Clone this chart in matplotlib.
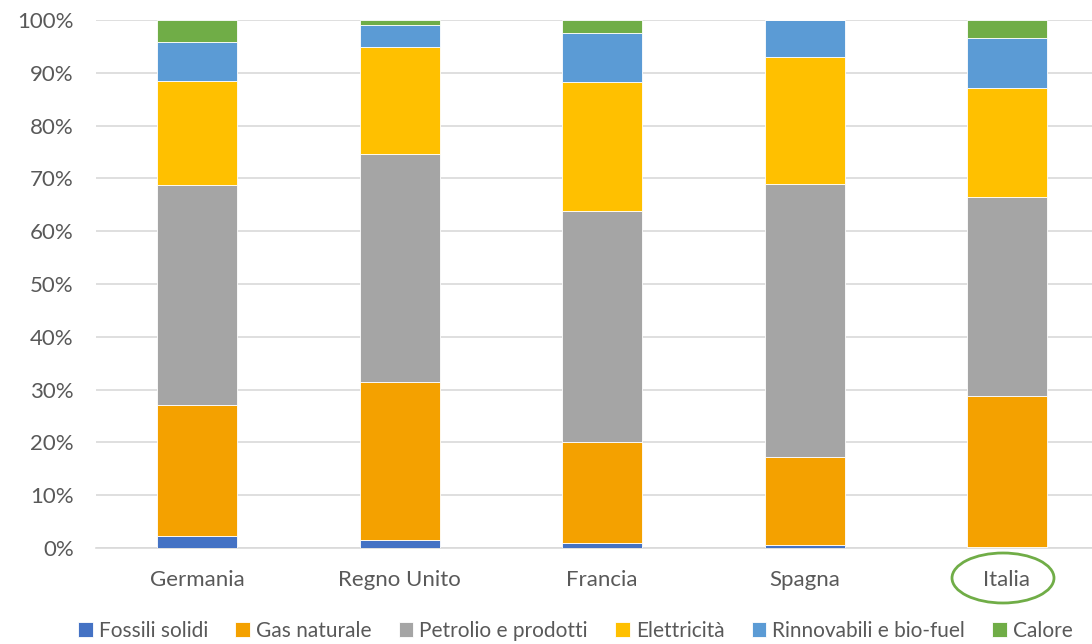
import numpy as np
import matplotlib.pyplot as plt
from matplotlib.patches import Ellipse

countries = ['Germania', 'Regno Unito', 'Francia', 'Spagna', 'Italia']
series = ['Fossili solidi', 'Gas naturale', 'Petrolio e prodotti', 'Elettricità',
          'Rinnovabili e bio-fuel', 'Calore']
fossili = [2.3, 1.5, 1.0, 0.6, 0.1]
gas = [24.8, 29.9, 19.0, 16.6, 28.7]
petrolio = [41.7, 43.2, 43.9, 51.8, 37.6]
elettricita = [19.7, 20.2, 24.3, 23.9, 20.8]
rinnovabili = [7.3, 4.2, 9.4, 7.1, 9.4]
calore = [4.2, 1.0, 2.4, 0.0, 3.4]
colors = ['#4472C4', '#F4A100', '#A5A5A5', '#FFC000', '#5B9BD5', '#70AD47']

plt.rcParams['font.family'] = ['Lato', 'DejaVu Sans']
fig = plt.figure(figsize=(10.92, 6.44), dpi=100)
ax = fig.add_axes([96 / 1092, 96 / 644, 1 - 96 / 1092, 528 / 644])

x = np.arange(len(countries))
bottom = np.zeros(len(countries))
for name, vals, c in zip(series, [fossili, gas, petrolio, elettricita, rinnovabili, calore], colors):
    ax.bar(x, vals, 0.395, bottom=bottom, color=c, edgecolor='white', linewidth=0.6, label=name, zorder=3)
    bottom += np.array(vals)

ax.set_xlim(-0.5, 4.42)
ax.set_ylim(0, 100)
ax.set_yticks(np.arange(0, 101, 10))
ax.set_yticklabels(['%d%%' % v for v in range(0, 101, 10)])
ax.set_xticks(x)
ax.set_xticklabels(countries)
ax.yaxis.grid(True, color='#D9D9D9', linewidth=1.2, zorder=0)
ax.tick_params(length=0, labelsize=16, colors='#595959')
ax.tick_params(axis='x', pad=16)
ax.tick_params(axis='y', pad=16)
for s in ['top', 'right', 'left']:
    ax.spines[s].set_visible(False)
ax.spines['bottom'].set_color('#D9D9D9')
ax.spines['bottom'].set_linewidth(1.2)

fig.legend(loc='center', bbox_to_anchor=(0.527, 1 - 631 / 644), ncol=6, frameon=False,
           fontsize=15, labelcolor='#595959', handlelength=0.7, handleheight=0.7,
           handletextpad=0.3, columnspacing=1.3, borderpad=0.2)

fig.patches.append(Ellipse((1003 / 1092, 1 - 578 / 644), 102 / 1092, 50 / 644,
                           transform=fig.transFigure, fill=False, edgecolor='#70AD47', linewidth=2))

plt.savefig('out.png', dpi=100)
